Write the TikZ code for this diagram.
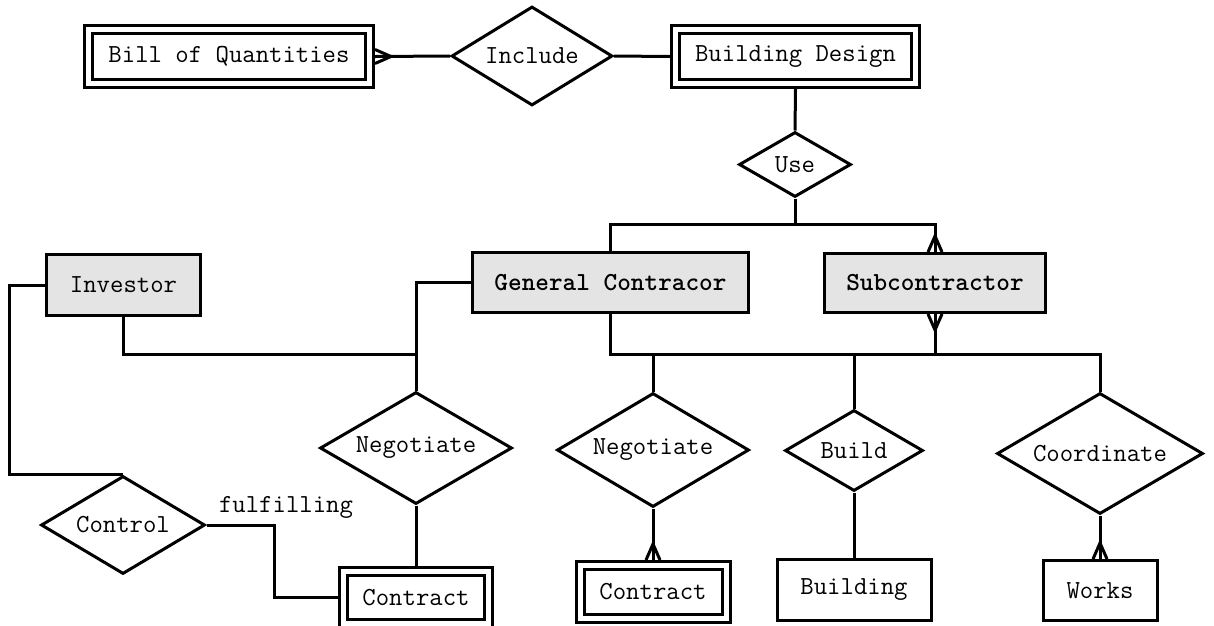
\documentclass[tikz,border=0pt]{standalone}
\usepackage{fontspec}
\usetikzlibrary{positioning, shapes.geometric}
\definecolor{entityGrey}{HTML}{E4E4E4}
\newcommand{\erfont}{\fontsize{26}{30}\selectfont\ttfamily}
% crow's foot: anchor, direction x, direction y
\newcommand{\crowfoot}[3]{\draw ([shift={({7*(#3)},{7*(#2)})}]#1) -- ([shift={({16*(#2)},{16*(#3)})}]#1) -- ([shift={({-7*(#3)},{-7*(#2)})}]#1);}

\begin{document}
\begin{tikzpicture}[x=1pt, y=-1pt, font=\erfont, line width=3pt,
    every node/.style={align=center, inner sep=0pt, outer sep=1.5pt},
    entity/.style={draw, rectangle, fill=white},
    strongentity/.style={entity, fill=entityGrey},
    weakentity/.style={draw, rectangle, fill=white, double, double distance=5pt, outer sep=5.5pt},
    relation/.style={draw, diamond, aspect=1.7, fill=white}]
    \useasboundingbox (0,0) rectangle (1214,625);
    \node[weakentity, minimum width=281, minimum height=54] (boq) at (229,56.5) {Bill of Quantities};
    \node[relation, minimum width=161, minimum height=99] (incl) at (532,56) {Include};
    \node[weakentity, minimum width=240, minimum height=54] (bd) at (795.5,56.5) {Building Design};
    \node[relation, minimum width=112, minimum height=65] (use) at (795,164.5) {Use};
    \node[strongentity, minimum width=276, minimum height=60, font=\erfont\bfseries] (gc) at (610.5,282.5) {General Contracor};
    \node[strongentity, minimum width=221, minimum height=59, font=\erfont\bfseries] (sub) at (935,283) {Subcontractor};
    \node[strongentity, minimum width=154, minimum height=61] (inv) at (123.5,285) {Investor};
    \node[relation, minimum width=192, minimum height=112] (neg1) at (416,448) {Negotiate};
    \node[relation, minimum width=192, minimum height=114] (neg2) at (653,450) {Negotiate};
    \node[relation, minimum width=138, minimum height=81] (build) at (854,450.5) {Build};
    \node[relation, minimum width=206, minimum height=121] (coord) at (1100,453.5) {Coordinate};
    \node[relation, minimum width=164, minimum height=98] (ctrl) at (123,525) {Control};
    \node[weakentity, minimum width=145, minimum height=52] (con1) at (416,597.5) {Contract};
    \node[weakentity, minimum width=146, minimum height=53] (con2) at (653,592) {Contract};
    \node[entity, minimum width=154, minimum height=61] (bldg) at (854,590) {Building};
    \node[entity, minimum width=114, minimum height=60] (works) at (1100,590.5) {Works};
    \node (ful) at (286,507) {fulfilling};
    \coordinate (usejoin) at (795,224);
    \coordinate (invjoin) at (416,354);
    \coordinate (hub) at (610.5,354);
    % connectors
    \draw (boq.east) -- (incl.west);
    \draw (incl.east) -- (bd.west);
    \draw (bd.south) -- (use.north);
    \draw (use.south) -- (usejoin);
    \draw (gc.north) |- (usejoin) -| (sub.north);
    \draw (inv.west) -- ++(-36,0) |- (ctrl.north);
    \draw (gc.west) -| (neg1.north);
    \draw (inv.south) |- (invjoin);
    \draw (neg1.south) -- (con1.north);
    \draw (ctrl.east) -- ++(68,0) |- (con1.west);
    \draw (gc.south) |- (coord.north |- hub) -- (coord.north);
    \draw (sub.south) -- (sub.south |- hub);
    \draw (neg2.north) -- (neg2.north |- hub);
    \draw (build.north) -- (build.north |- hub);
    \draw (neg2.south) -- (con2.north);
    \draw (build.south) -- (bldg.north);
    \draw (coord.south) -- (works.north);
    \crowfoot{boq.east}{1}{0}
    \crowfoot{sub.north}{0}{-1}
    \crowfoot{sub.south}{0}{1}
    \crowfoot{con2.north}{0}{-1}
    \crowfoot{works.north}{0}{-1}
\end{tikzpicture}
\end{document}
